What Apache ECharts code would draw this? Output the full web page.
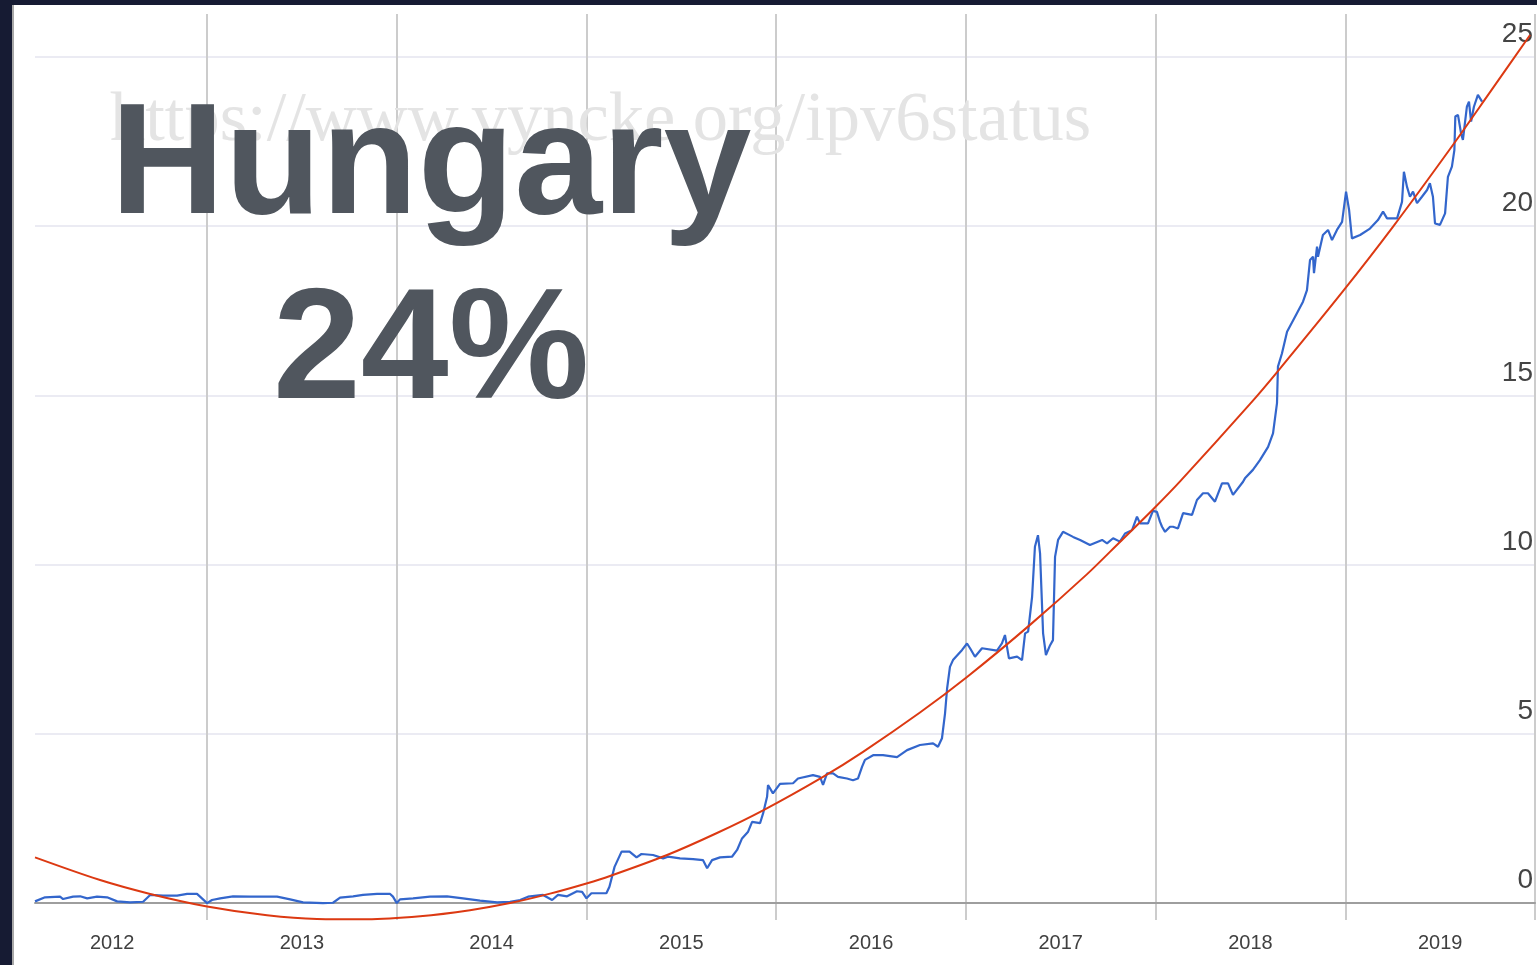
<!DOCTYPE html>
<html>
<head>
<meta charset="utf-8">
<script src="https://cdn.jsdelivr.net/npm/echarts@6/dist/echarts.min.js"></script>
<style>
html,body{margin:0;padding:0;background:#161b33;overflow:hidden;}
#chart{width:1537px;height:965px;}
</style>
</head>
<body>
<div id="chart"></div>
<script>
// ---- data ----
const yearLabelPositions = [2012.5, 2013.5, 2014.5, 2015.5, 2016.5, 2017.5, 2018.5, 2019.5];
const yearBoundaries = [2013, 2014, 2015, 2016, 2017, 2018, 2019, 2020];
const yTicks = [0, 5, 10, 15, 20, 25];

const dates = [
  2012.093,2012.146,2012.225,2012.241,2012.294,2012.331,2012.368,2012.420,2012.473,2012.526,
  2012.594,2012.663,2012.700,2012.768,2012.842,2012.895,2012.947,2012.963,2013.000,2013.026,
  2013.069,2013.137,2013.227,2013.295,2013.369,2013.438,2013.506,2013.611,2013.664,2013.701,
  2013.770,2013.822,2013.896,2013.965,2013.980,2014.000,2014.017,2014.086,2014.175,2014.265,
  2014.349,2014.439,2014.529,2014.597,2014.650,2014.692,2014.771,2014.819,2014.850,2014.898,
  2014.950,2014.977,2015.000,2015.026,2015.069,2015.105,2015.121,2015.148,2015.185,2015.227,
  2015.264,2015.290,2015.351,2015.404,2015.430,2015.493,2015.562,2015.614,2015.636,2015.662,
  2015.704,2015.767,2015.794,2015.820,2015.852,2015.873,2015.915,2015.931,2015.952,2015.957,
  2015.983,2016.020,2016.089,2016.115,2016.194,2016.231,2016.247,2016.268,2016.300,2016.326,
  2016.373,2016.405,2016.431,2016.453,2016.468,2016.511,2016.563,2016.637,2016.690,2016.758,
  2016.827,2016.853,2016.874,2016.890,2016.901,2016.916,2016.932,2016.980,2017.006,2017.022,
  2017.048,2017.085,2017.164,2017.190,2017.206,2017.227,2017.270,2017.296,2017.312,2017.328,
  2017.349,2017.364,2017.380,2017.391,2017.407,2017.422,2017.444,2017.459,2017.470,2017.486,
  2017.512,2017.565,2017.602,2017.654,2017.718,2017.744,2017.776,2017.812,2017.839,2017.876,
  2017.902,2017.918,2017.960,2017.986,2018.007,2018.023,2018.034,2018.050,2018.076,2018.092,
  2018.118,2018.145,2018.192,2018.218,2018.250,2018.276,2018.313,2018.350,2018.382,2018.408,
  2018.461,2018.471,2018.513,2018.550,2018.593,2018.619,2018.640,2018.645,2018.666,2018.693,
  2018.745,2018.777,2018.798,2018.814,2018.830,2018.835,2018.851,2018.856,2018.882,2018.909,
  2018.930,2018.956,2018.983,2019.004,2019.020,2019.035,2019.078,2019.130,2019.172,2019.199,
  2019.220,2019.273,2019.299,2019.309,2019.325,2019.341,2019.357,2019.378,2019.404,2019.431,
  2019.446,2019.462,2019.473,2019.499,2019.526,2019.541,2019.562,2019.575,2019.580,2019.594,
  2019.610,2019.620,2019.641,2019.652,2019.663,2019.678,2019.699,2019.721
];
const ipv6Share = [
  0.05,0.17,0.19,0.12,0.19,0.20,0.14,0.19,0.17,0.05,
  0.02,0.04,0.24,0.22,0.22,0.27,0.27,0.19,0.00,0.09,
  0.14,0.20,0.19,0.19,0.19,0.11,0.02,0.00,0.01,0.16,
  0.20,0.24,0.27,0.27,0.19,0.00,0.11,0.14,0.19,0.20,
  0.14,0.07,0.02,0.04,0.09,0.19,0.24,0.09,0.24,0.20,
  0.35,0.33,0.14,0.29,0.29,0.29,0.48,1.07,1.52,1.52,
  1.35,1.45,1.42,1.32,1.37,1.32,1.30,1.27,1.03,1.27,
  1.35,1.37,1.57,1.91,2.11,2.40,2.36,2.65,3.14,3.49,
  3.24,3.52,3.54,3.68,3.78,3.73,3.49,3.83,3.83,3.73,
  3.68,3.63,3.68,4.03,4.23,4.37,4.37,4.31,4.52,4.67,
  4.72,4.62,4.87,5.60,6.34,6.98,7.18,7.48,7.67,7.53,
  7.28,7.53,7.46,7.67,7.92,7.23,7.28,7.18,7.97,8.02,
  9.05,10.53,10.87,10.33,7.97,7.33,7.62,7.77,10.23,10.73,
  10.97,10.82,10.73,10.58,10.73,10.63,10.78,10.68,10.92,11.02,
  11.42,11.22,11.22,11.59,11.56,11.27,11.12,10.97,11.12,11.12,
  11.07,11.52,11.47,11.91,12.11,12.11,11.86,12.40,12.40,12.06,
  12.45,12.55,12.80,13.09,13.48,13.88,14.77,15.85,16.24,16.88,
  17.43,17.77,18.11,19.00,19.10,18.61,19.40,19.10,19.74,19.89,
  19.59,19.89,20.13,21.02,20.48,19.64,19.74,19.93,20.18,20.43,
  20.23,20.23,20.72,21.61,21.17,20.87,21.02,20.68,20.87,21.07,
  21.27,20.87,20.08,20.04,20.38,21.46,21.76,22.25,23.24,23.29,
  22.75,22.55,23.53,23.68,23.09,23.53,23.88,23.68
];

const trendDates = [
  2012.093,2012.436,2012.700,2013.000,2013.316,2013.580,2013.843,2014.123,2014.386,2014.597,
  2014.808,2015.000,2015.124,2015.425,2015.688,2015.931,2016.247,2016.458,2016.758,2017.006,
  2017.338,2017.639,2017.812,2017.986,2018.129,2018.498,2018.645,2018.988,2019.251,2019.552,
  2019.763,2019.974
];
const trendValues = [
  1.35,0.68,0.27,-0.10,-0.36,-0.47,-0.48,-0.39,-0.21,0.00,
  0.28,0.58,0.80,1.42,2.07,2.74,3.73,4.47,5.63,6.68,
  8.22,9.72,10.67,11.63,12.46,14.75,15.72,18.08,19.98,22.28,
  23.96,25.65
];

const titleLines = ['Hungary', '24%'];
const watermark = 'https://www.vyncke.org/ipv6status';

// ---- chart ----
const chart = echarts.init(document.getElementById('chart'), null, {renderer: 'canvas'});
const zip = (xs, ys) => xs.map((x, i) => [x, ys[i]]);

const option = {
  backgroundColor: '#ffffff',
  animation: false,
  grid: {left: 35, right: 2, top: 14, bottom: 45, containLabel: false, outerBoundsMode: 'none'},
  xAxis: {
    type: 'value',
    min: 2012.093,
    max: 2020,
    axisLine: {show: true, onZero: true, lineStyle: {color: '#9e9e9e', width: 2}},
    axisTick: {show: false, customValues: yearBoundaries},
    splitLine: {show: true, lineStyle: {color: '#cccccc', width: 2}},
    axisLabel: {
      customValues: yearLabelPositions,
      formatter: v => String(Math.floor(v)),
      margin: 13,
      fontSize: 20,
      color: '#404040',
      fontFamily: '"Liberation Sans", Arial, sans-serif'
    }
  },
  yAxis: {
    type: 'value',
    position: 'right',
    min: -0.5,
    max: 26.27,
    axisLine: {show: false},
    axisTick: {show: false, customValues: yTicks},
    splitLine: {show: true, lineStyle: {color: '#ebebf3', width: 2}},
    axisLabel: {
      customValues: yTicks,
      inside: true,
      margin: 2,
      fontSize: 28,
      color: '#444444',
      verticalAlign: 'bottom',
      lineHeight: 45,
      fontFamily: '"Liberation Sans", Arial, sans-serif'
    }
  },
  graphic: [
    {type: 'rect', z: 100, shape: {x: 0, y: 0, width: 12, height: 965}, style: {fill: '#161b33'}},
    {type: 'rect', z: 100, shape: {x: 0, y: 0, width: 1537, height: 5}, style: {fill: '#161b33'}},
    {type: 'line', z: 100, shape: {x1: 13, y1: 5, x2: 13, y2: 965}, style: {stroke: '#a8a8a8', lineWidth: 2}},
    {type: 'text', z: 1, x: 110, y: 121, style: {
      text: watermark, fill: '#e4e4e4', font: '70.5px "Liberation Serif", "Times New Roman", serif',
      align: 'left', verticalAlign: 'middle'}},
    {type: 'text', z: 3, x: 431, y: 169, style: {
      text: titleLines[0], fill: '#50565e', font: 'bold 158px "Liberation Sans", Arial, sans-serif',
      align: 'center', verticalAlign: 'middle'}},
    {type: 'text', z: 3, x: 431, y: 354, style: {
      text: titleLines[1], fill: '#50565e', font: 'bold 158px "Liberation Sans", Arial, sans-serif',
      align: 'center', verticalAlign: 'middle'}}
  ],
  series: [
    {
      name: 'IPv6', type: 'line', data: zip(dates, ipv6Share), showSymbol: false,
      lineStyle: {color: '#3366cc', width: 2.2}, itemStyle: {color: '#3366cc'}, z: 4
    },
    {
      name: 'Trend', type: 'line', data: zip(trendDates, trendValues), showSymbol: false, smooth: 0.3,
      lineStyle: {color: '#dc3912', width: 2}, itemStyle: {color: '#dc3912'}, z: 5
    }
  ]
};
chart.setOption(option);
</script>
</body>
</html>
